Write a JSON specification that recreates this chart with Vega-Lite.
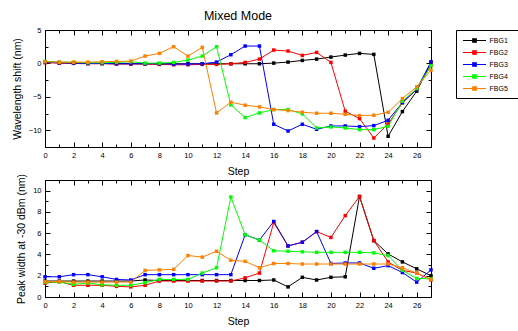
{
 "$schema": "https://vega.github.io/schema/vega-lite/v6.json",
 "padding": {"left": 11, "top": 10, "right": 0, "bottom": 2},
 "background": "white",
 "title": {"text": "Mixed Mode", "fontSize": 12.5, "fontWeight": "normal", "font": "Liberation Sans", "color": "black", "offset": 3, "anchor": "middle", "frame": "group"},
 "datasets": {
  "d": [
   {"step":0,"fbg":"FBG1","shift":0.2,"width":1.5},{"step":1,"fbg":"FBG1","shift":0.1,"width":1.5},{"step":2,"fbg":"FBG1","shift":0.05,"width":1.5},{"step":3,"fbg":"FBG1","shift":0.0,"width":1.5},{"step":4,"fbg":"FBG1","shift":0.0,"width":1.5},{"step":5,"fbg":"FBG1","shift":0.0,"width":1.5},{"step":6,"fbg":"FBG1","shift":0.0,"width":1.5},{"step":7,"fbg":"FBG1","shift":-0.05,"width":1.6},{"step":8,"fbg":"FBG1","shift":-0.05,"width":1.55},{"step":9,"fbg":"FBG1","shift":-0.05,"width":1.55},{"step":10,"fbg":"FBG1","shift":-0.05,"width":1.55},{"step":11,"fbg":"FBG1","shift":-0.05,"width":1.55},{"step":12,"fbg":"FBG1","shift":-0.05,"width":1.55},{"step":13,"fbg":"FBG1","shift":-0.05,"width":1.55},{"step":14,"fbg":"FBG1","shift":-0.05,"width":1.55},{"step":15,"fbg":"FBG1","shift":-0.05,"width":1.55},{"step":16,"fbg":"FBG1","shift":0.05,"width":1.6},{"step":17,"fbg":"FBG1","shift":0.2,"width":0.95},{"step":18,"fbg":"FBG1","shift":0.45,"width":1.85},{"step":19,"fbg":"FBG1","shift":0.65,"width":1.6},{"step":20,"fbg":"FBG1","shift":0.95,"width":1.85},{"step":21,"fbg":"FBG1","shift":1.25,"width":1.9},{"step":22,"fbg":"FBG1","shift":1.5,"width":9.45},{"step":23,"fbg":"FBG1","shift":1.35,"width":5.3},{"step":24,"fbg":"FBG1","shift":-10.9,"width":4.05},{"step":25,"fbg":"FBG1","shift":-7.2,"width":3.3},{"step":26,"fbg":"FBG1","shift":-4.15,"width":2.65},{"step":27,"fbg":"FBG1","shift":0.15,"width":2.0},
   {"step":0,"fbg":"FBG2","shift":0.1,"width":1.3},{"step":1,"fbg":"FBG2","shift":0.05,"width":1.45},{"step":2,"fbg":"FBG2","shift":0.0,"width":1.1},{"step":3,"fbg":"FBG2","shift":-0.05,"width":1.1},{"step":4,"fbg":"FBG2","shift":-0.05,"width":1.1},{"step":5,"fbg":"FBG2","shift":-0.1,"width":1.0},{"step":6,"fbg":"FBG2","shift":-0.1,"width":0.95},{"step":7,"fbg":"FBG2","shift":-0.1,"width":1.1},{"step":8,"fbg":"FBG2","shift":-0.15,"width":1.5},{"step":9,"fbg":"FBG2","shift":-0.2,"width":1.5},{"step":10,"fbg":"FBG2","shift":-0.2,"width":1.5},{"step":11,"fbg":"FBG2","shift":-0.15,"width":1.5},{"step":12,"fbg":"FBG2","shift":-0.15,"width":1.5},{"step":13,"fbg":"FBG2","shift":-0.05,"width":1.5},{"step":14,"fbg":"FBG2","shift":0.15,"width":1.8},{"step":15,"fbg":"FBG2","shift":0.65,"width":2.25},{"step":16,"fbg":"FBG2","shift":2.0,"width":7.0},{"step":17,"fbg":"FBG2","shift":1.85,"width":4.8},{"step":18,"fbg":"FBG2","shift":1.2,"width":5.15},{"step":19,"fbg":"FBG2","shift":1.65,"width":6.15},{"step":20,"fbg":"FBG2","shift":0.15,"width":5.6},{"step":21,"fbg":"FBG2","shift":-7.15,"width":7.65},{"step":22,"fbg":"FBG2","shift":-8.25,"width":9.45},{"step":23,"fbg":"FBG2","shift":-11.15,"width":5.3},{"step":24,"fbg":"FBG2","shift":-9.05,"width":3.3},{"step":25,"fbg":"FBG2","shift":-5.9,"width":2.5},{"step":26,"fbg":"FBG2","shift":-3.9,"width":2.25},{"step":27,"fbg":"FBG2","shift":-0.3,"width":1.6},
   {"step":0,"fbg":"FBG3","shift":0.2,"width":1.9},{"step":1,"fbg":"FBG3","shift":0.1,"width":1.9},{"step":2,"fbg":"FBG3","shift":0.05,"width":2.1},{"step":3,"fbg":"FBG3","shift":0.0,"width":2.1},{"step":4,"fbg":"FBG3","shift":0.0,"width":1.9},{"step":5,"fbg":"FBG3","shift":-0.05,"width":1.65},{"step":6,"fbg":"FBG3","shift":-0.05,"width":1.6},{"step":7,"fbg":"FBG3","shift":-0.05,"width":2.1},{"step":8,"fbg":"FBG3","shift":-0.05,"width":2.1},{"step":9,"fbg":"FBG3","shift":-0.1,"width":2.1},{"step":10,"fbg":"FBG3","shift":-0.1,"width":2.1},{"step":11,"fbg":"FBG3","shift":-0.05,"width":2.1},{"step":12,"fbg":"FBG3","shift":0.2,"width":2.1},{"step":13,"fbg":"FBG3","shift":1.3,"width":2.1},{"step":14,"fbg":"FBG3","shift":2.6,"width":5.85},{"step":15,"fbg":"FBG3","shift":2.6,"width":5.35},{"step":16,"fbg":"FBG3","shift":-9.1,"width":7.1},{"step":17,"fbg":"FBG3","shift":-10.1,"width":4.8},{"step":18,"fbg":"FBG3","shift":-9.1,"width":5.15},{"step":19,"fbg":"FBG3","shift":-9.85,"width":6.15},{"step":20,"fbg":"FBG3","shift":-9.35,"width":3.15},{"step":21,"fbg":"FBG3","shift":-9.35,"width":3.2},{"step":22,"fbg":"FBG3","shift":-9.45,"width":3.2},{"step":23,"fbg":"FBG3","shift":-9.3,"width":2.7},{"step":24,"fbg":"FBG3","shift":-8.5,"width":2.95},{"step":25,"fbg":"FBG3","shift":-5.85,"width":2.3},{"step":26,"fbg":"FBG3","shift":-3.85,"width":1.4},{"step":27,"fbg":"FBG3","shift":0.25,"width":2.55},
   {"step":0,"fbg":"FBG4","shift":0.3,"width":1.4},{"step":1,"fbg":"FBG4","shift":0.2,"width":1.4},{"step":2,"fbg":"FBG4","shift":0.15,"width":1.2},{"step":3,"fbg":"FBG4","shift":0.1,"width":1.3},{"step":4,"fbg":"FBG4","shift":0.1,"width":1.15},{"step":5,"fbg":"FBG4","shift":0.15,"width":1.1},{"step":6,"fbg":"FBG4","shift":0.25,"width":1.1},{"step":7,"fbg":"FBG4","shift":0.05,"width":1.35},{"step":8,"fbg":"FBG4","shift":0.05,"width":1.65},{"step":9,"fbg":"FBG4","shift":0.15,"width":1.65},{"step":10,"fbg":"FBG4","shift":0.5,"width":1.65},{"step":11,"fbg":"FBG4","shift":1.1,"width":2.25},{"step":12,"fbg":"FBG4","shift":2.5,"width":2.75},{"step":13,"fbg":"FBG4","shift":-6.2,"width":9.4},{"step":14,"fbg":"FBG4","shift":-8.1,"width":5.85},{"step":15,"fbg":"FBG4","shift":-7.4,"width":5.35},{"step":16,"fbg":"FBG4","shift":-6.9,"width":4.35},{"step":17,"fbg":"FBG4","shift":-6.9,"width":4.3},{"step":18,"fbg":"FBG4","shift":-7.55,"width":4.25},{"step":19,"fbg":"FBG4","shift":-9.65,"width":4.2},{"step":20,"fbg":"FBG4","shift":-9.5,"width":4.2},{"step":21,"fbg":"FBG4","shift":-9.65,"width":4.2},{"step":22,"fbg":"FBG4","shift":-9.9,"width":4.2},{"step":23,"fbg":"FBG4","shift":-9.9,"width":4.15},{"step":24,"fbg":"FBG4","shift":-9.4,"width":3.9},{"step":25,"fbg":"FBG4","shift":-5.65,"width":2.5},{"step":26,"fbg":"FBG4","shift":-3.75,"width":1.75},{"step":27,"fbg":"FBG4","shift":-0.35,"width":1.7},
   {"step":0,"fbg":"FBG5","shift":0.25,"width":1.45},{"step":1,"fbg":"FBG5","shift":0.2,"width":1.45},{"step":2,"fbg":"FBG5","shift":0.2,"width":1.4},{"step":3,"fbg":"FBG5","shift":0.2,"width":1.4},{"step":4,"fbg":"FBG5","shift":0.25,"width":1.4},{"step":5,"fbg":"FBG5","shift":0.3,"width":1.4},{"step":6,"fbg":"FBG5","shift":0.35,"width":1.4},{"step":7,"fbg":"FBG5","shift":1.1,"width":2.5},{"step":8,"fbg":"FBG5","shift":1.5,"width":2.55},{"step":9,"fbg":"FBG5","shift":2.5,"width":2.6},{"step":10,"fbg":"FBG5","shift":1.1,"width":3.9},{"step":11,"fbg":"FBG5","shift":2.4,"width":3.75},{"step":12,"fbg":"FBG5","shift":-7.4,"width":4.3},{"step":13,"fbg":"FBG5","shift":-5.8,"width":3.45},{"step":14,"fbg":"FBG5","shift":-6.25,"width":3.35},{"step":15,"fbg":"FBG5","shift":-6.5,"width":2.75},{"step":16,"fbg":"FBG5","shift":-6.9,"width":3.15},{"step":17,"fbg":"FBG5","shift":-7.05,"width":3.15},{"step":18,"fbg":"FBG5","shift":-7.3,"width":3.1},{"step":19,"fbg":"FBG5","shift":-7.45,"width":3.1},{"step":20,"fbg":"FBG5","shift":-7.45,"width":3.1},{"step":21,"fbg":"FBG5","shift":-7.6,"width":3.1},{"step":22,"fbg":"FBG5","shift":-7.8,"width":3.1},{"step":23,"fbg":"FBG5","shift":-7.75,"width":3.1},{"step":24,"fbg":"FBG5","shift":-7.3,"width":3.1},{"step":25,"fbg":"FBG5","shift":-5.25,"width":2.75},{"step":26,"fbg":"FBG5","shift":-3.5,"width":2.25},{"step":27,"fbg":"FBG5","shift":-1.0,"width":1.65}
  ]
 },
 "data": {"name": "d"},
 "spacing": -6,
 "vconcat": [
  {
   "width": 386, "height": 117,
   "layer": [
    {
     "mark": {"type": "line", "strokeWidth": 1, "point": {"shape": "square", "size": 12, "filled": true}},
     "encoding": {
      "x": {"field": "step", "type": "quantitative", "scale": {"domain": [0, 27], "nice": false, "zero": false},
            "axis": {"orient": "bottom", "values": [0,1,2,3,4,5,6,7,8,9,10,11,12,13,14,15,16,17,18,19,20,21,22,23,24,25,26,27],
                     "labelExpr": "datum.value % 2 === 0 ? datum.label : ''",
                     "tickSize": {"condition": {"test": "datum.value % 2 === 0", "value": -5}, "value": -3},
                     "labelPadding": 9, "title": "Step", "titlePadding": 6}},
      "y": {"field": "shift", "type": "quantitative", "scale": {"domain": [-12.5, 5], "nice": false, "zero": false},
            "axis": {"orient": "left", "values": [-12.5,-10,-7.5,-5,-2.5,0,2.5,5],
                     "labelExpr": "datum.value % 5 === 0 ? datum.label : ''",
                     "tickSize": {"condition": {"test": "datum.value % 5 === 0", "value": -5}, "value": -3},
                     "labelPadding": 9, "title": "Wavelength shift (nm)", "titlePadding": 6}},
      "color": {"field": "fbg", "type": "nominal",
                "scale": {"domain": ["FBG1","FBG2","FBG3","FBG4","FBG5"], "range": ["#000000","#ff0000","#0000ff","#00ff00","#ff8000"]},
                "legend": {"title": " ", "titleOrient": "right", "titlePadding": 18, "titleFontSize": 7, "orient": "right", "offset": 21, "padding": 4.5, "strokeColor": "black", "fillColor": "white",
                           "symbolType": "M-2.3,0H2.3M-0.35,-0.35H0.35V0.35H-0.35Z", "symbolSize": 100, "symbolStrokeWidth": 1.2, "symbolOffset": 8,
                           "labelFontSize": 7, "labelFont": "Liberation Sans", "labelColor": "black", "rowPadding": 1, "labelOffset": 9}}
     }
    },
    {
     "mark": {"type": "point", "opacity": 0},
     "encoding": {
      "x": {"field": "step", "type": "quantitative",
            "axis": {"orient": "top", "values": [0,1,2,3,4,5,6,7,8,9,10,11,12,13,14,15,16,17,18,19,20,21,22,23,24,25,26,27], "labels": false, "title": null,
                     "tickSize": {"condition": {"test": "datum.value % 2 === 0", "value": -5}, "value": -3}}},
      "y": {"field": "shift", "type": "quantitative",
            "axis": {"orient": "right", "values": [-12.5,-10,-7.5,-5,-2.5,0,2.5,5], "labels": false, "title": null,
                     "tickSize": {"condition": {"test": "datum.value % 5 === 0", "value": -5}, "value": -3}}}
     }
    }
   ],
   "resolve": {"axis": {"x": "independent", "y": "independent"}}
  },
  {
   "width": 386, "height": 117,
   "layer": [
    {
     "mark": {"type": "line", "strokeWidth": 1, "point": {"shape": "square", "size": 12, "filled": true}},
     "encoding": {
      "x": {"field": "step", "type": "quantitative", "scale": {"domain": [0, 27], "nice": false, "zero": false},
            "axis": {"orient": "bottom", "values": [0,1,2,3,4,5,6,7,8,9,10,11,12,13,14,15,16,17,18,19,20,21,22,23,24,25,26,27],
                     "labelExpr": "datum.value % 2 === 0 ? datum.label : ''",
                     "tickSize": {"condition": {"test": "datum.value % 2 === 0", "value": -5}, "value": -3},
                     "labelPadding": 9, "title": "Step", "titlePadding": 6}},
      "y": {"field": "width", "type": "quantitative", "scale": {"domain": [0, 11], "nice": false, "zero": false},
            "axis": {"orient": "left", "values": [0,1,2,3,4,5,6,7,8,9,10,11],
                     "labelExpr": "datum.value % 2 === 0 ? datum.label : ''",
                     "tickSize": {"condition": {"test": "datum.value % 2 === 0", "value": -5}, "value": -3},
                     "labelPadding": 9, "title": "Peak width at -30 dBm (nm)", "titlePadding": 6}},
      "color": {"field": "fbg", "type": "nominal",
                "scale": {"domain": ["FBG1","FBG2","FBG3","FBG4","FBG5"], "range": ["#000000","#ff0000","#0000ff","#00ff00","#ff8000"]}}
     }
    },
    {
     "mark": {"type": "point", "opacity": 0},
     "encoding": {
      "x": {"field": "step", "type": "quantitative",
            "axis": {"orient": "top", "values": [0,1,2,3,4,5,6,7,8,9,10,11,12,13,14,15,16,17,18,19,20,21,22,23,24,25,26,27], "labels": false, "title": null,
                     "tickSize": {"condition": {"test": "datum.value % 2 === 0", "value": -5}, "value": -3}}},
      "y": {"field": "width", "type": "quantitative",
            "axis": {"orient": "right", "values": [0,1,2,3,4,5,6,7,8,9,10,11], "labels": false, "title": null,
                     "tickSize": {"condition": {"test": "datum.value % 2 === 0", "value": -5}, "value": -3}}}
     }
    }
   ],
   "resolve": {"axis": {"x": "independent", "y": "independent"}}
  }
 ],
 "config": {
  "font": "Liberation Sans",
  "view": {"stroke": "black", "strokeWidth": 1},
  "axis": {"grid": false, "domainColor": "black", "tickColor": "black", "labelColor": "black", "titleColor": "black",
           "labelFontSize": 7.5, "titleFontSize": 10.5, "titleFontWeight": "normal", "labelFont": "Liberation Sans", "titleFont": "Liberation Sans",
           "domainWidth": 1, "tickWidth": 1, "labelFlush": false, "labelOverlap": false}
 }
}
